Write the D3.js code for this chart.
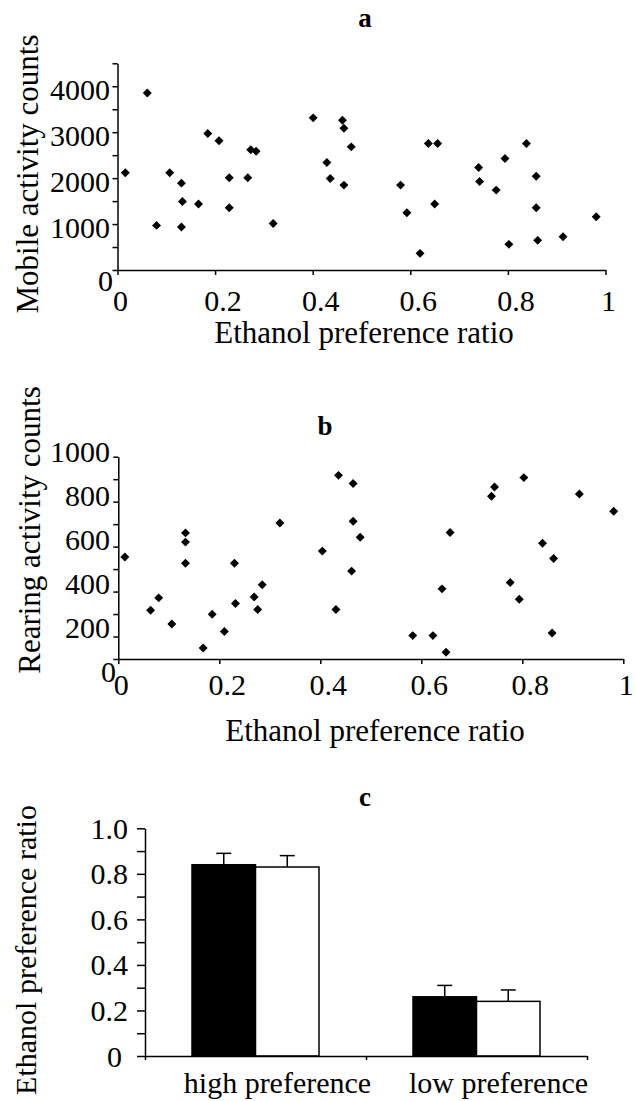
<!DOCTYPE html>
<html>
<head>
<meta charset="utf-8">
<script src="https://cdn.jsdelivr.net/npm/d3@7"></script>
<style>
body { margin: 0; background: #fff; }
text { font-family: "Liberation Serif", "Times New Roman", serif; fill: #000; }
.axis path, .axis line { stroke: #000; stroke-width: 1.5px; }
</style>
</head>
<body>
<svg id="chart" width="635" height="1101"></svg>
<script>
// panel a: ethanol preference vs mobile activity
var mobilePref = [0.016, 0.061, 0.080, 0.107, 0.131, 0.133, 0.131, 0.166, 0.185, 0.208,
                  0.229, 0.229, 0.267, 0.273, 0.284, 0.319, 0.401, 0.461, 0.464, 0.479,
                  0.429, 0.436, 0.464, 0.580, 0.593, 0.620, 0.637, 0.656, 0.650, 0.740,
                  0.742, 0.776, 0.794, 0.802, 0.838, 0.858, 0.858, 0.861, 0.913, 0.981];
var mobileCounts = [2116, 3855, 971, 2116, 1891, 1493, 935, 1435, 2971, 2812,
                    2007, 1355, 2007, 2616, 2587, 1014, 3312, 3261, 3087, 2681,
                    2341, 1993, 1848, 1848, 1246, 362, 2754, 2754, 1435, 2232,
                    1928, 1739, 2428, 558, 2754, 2043, 1355, 645, 725, 1159];
var mobileTicks = [0, 1000, 2000, 3000, 4000];

// panel b: ethanol preference vs rearing activity
var rearPref = [0.013, 0.064, 0.080, 0.106, 0.133, 0.133, 0.133, 0.168, 0.186, 0.210,
                0.230, 0.232, 0.269, 0.285, 0.276, 0.320, 0.404, 0.436, 0.465, 0.465,
                0.479, 0.462, 0.431, 0.583, 0.623, 0.649, 0.641, 0.657, 0.739, 0.745,
                0.803, 0.776, 0.794, 0.840, 0.862, 0.859, 0.913, 0.981];
var rearCounts = [554, 317, 372, 256, 661, 620, 526, 149, 299, 222,
                  526, 347, 376, 430, 320, 705, 580, 917, 881, 713,
                  642, 491, 320, 204, 204, 130, 412, 663, 824, 865,
                  907, 440, 366, 615, 547, 216, 834, 757];
var rearTicks = [0, 200, 400, 600, 800, 1000];

var prefTicks = [0, 0.2, 0.4, 0.6, 0.8, 1];

// panel c: bars
var groups = ["high preference", "low preference"];
var blackMeans = [0.84, 0.26];
var blackErr = [0.05, 0.05];
var whiteMeans = [0.83, 0.24];
var whiteErr = [0.05, 0.05];
var ratioTicks = [0, 0.2, 0.4, 0.6, 0.8, 1.0];

var svg = d3.select("#chart");
var diamond = d3.symbol().type(d3.symbolSquare).size(40);

function fmtPref(d) { return d === 0 || d === 1 ? String(d) : d3.format(".1f")(d); }

// ---------- panel a ----------
var xA = d3.scaleLinear().domain([0, 1]).range([117.5, 605.5]);
var yA = d3.scaleLinear().domain([0, 4500]).range([270, 63.3]);

svg.append("g").attr("class", "axis")
    .attr("transform", "translate(0," + yA(0) + ")")
    .call(d3.axisBottom(xA).tickValues(prefTicks).tickSize(5).tickSizeOuter(0).tickFormat(""));
svg.append("g").attr("class", "axis")
    .attr("transform", "translate(" + xA(0) + ",0)")
    .call(d3.axisLeft(yA).tickValues(d3.range(0, 4501, 500)).tickSize(5).tickSizeOuter(0).tickFormat(""));

svg.append("g").selectAll("text").data(prefTicks).enter().append("text")
    .attr("x", function(d) { return xA(d) + (d === 0 || d === 1 ? 3 : 8); })
    .attr("y", 311)
    .attr("text-anchor", "middle")
    .attr("font-size", 30)
    .text(fmtPref);
svg.append("g").selectAll("text").data(mobileTicks).enter().append("text")
    .attr("x", function(d) { return d === 0 ? 113 : 110; })
    .attr("y", function(d) { return yA(d) + (d === 0 ? 10 : 3); })
    .attr("dy", "0.35em")
    .attr("text-anchor", "end")
    .attr("font-size", 30)
    .text(function(d) { return d; });

svg.append("g").selectAll("path")
    .data(d3.zip(mobilePref, mobileCounts)).enter().append("path")
    .attr("d", diamond)
    .attr("transform", function(d) { return "translate(" + xA(d[0]) + "," + yA(d[1]) + ") rotate(45)"; })
    .attr("fill", "#000");

svg.append("text").attr("x", 365).attr("y", 27).attr("text-anchor", "middle")
    .attr("font-size", 27).attr("font-weight", "bold").text("a");
svg.append("text").attr("x", 364).attr("y", 343).attr("text-anchor", "middle")
    .attr("font-size", 31).text("Ethanol preference ratio");
svg.append("text").attr("transform", "translate(38,174) rotate(-90)")
    .attr("text-anchor", "middle").attr("font-size", 31).text("Mobile activity counts");

// ---------- panel b ----------
var xB = d3.scaleLinear().domain([0, 1]).range([118.3, 623.3]);
var yB = d3.scaleLinear().domain([100, 1000]).range([659, 456.7]);

svg.append("g").attr("class", "axis")
    .attr("transform", "translate(0," + yB(100) + ")")
    .call(d3.axisBottom(xB).tickValues(prefTicks).tickSize(5).tickSizeOuter(0).tickFormat(""));
svg.append("g").attr("class", "axis")
    .attr("transform", "translate(" + xB(0) + ",0)")
    .call(d3.axisLeft(yB).tickValues(d3.range(100, 1001, 100)).tickSize(5).tickSizeOuter(0).tickFormat(""));

svg.append("g").selectAll("text").data(prefTicks).enter().append("text")
    .attr("x", function(d) { return xB(d) + (d === 0 || d === 1 ? 3 : 8); })
    .attr("y", 695)
    .attr("text-anchor", "middle")
    .attr("font-size", 30)
    .text(fmtPref);
svg.append("g").selectAll("text").data(rearTicks).enter().append("text")
    .attr("x", function(d) { return d === 0 ? 116 : 110; })
    .attr("y", function(d) { return yB(d) - (d / 1000) * 5 - (1 - d / 1000) * 10; })
    .attr("dy", "0.35em")
    .attr("text-anchor", "end")
    .attr("font-size", 30)
    .text(function(d) { return d; });

svg.append("g").selectAll("path")
    .data(d3.zip(rearPref, rearCounts)).enter().append("path")
    .attr("d", diamond)
    .attr("transform", function(d) { return "translate(" + xB(d[0]) + "," + yB(d[1]) + ") rotate(45)"; })
    .attr("fill", "#000");

svg.append("text").attr("x", 325).attr("y", 435).attr("text-anchor", "middle")
    .attr("font-size", 27).attr("font-weight", "bold").text("b");
svg.append("text").attr("x", 375).attr("y", 741).attr("text-anchor", "middle")
    .attr("font-size", 31).text("Ethanol preference ratio");
svg.append("text").attr("transform", "translate(40,530) rotate(-90)")
    .attr("text-anchor", "middle").attr("font-size", 31).text("Rearing activity counts");

// ---------- panel c ----------
var xC = d3.scaleBand().domain(groups).range([145, 587]);
var xSub = d3.scaleBand().domain(["black", "white"]).range([47, 174]);
var yC = d3.scaleLinear().domain([0, 1]).range([1056, 828.3]);

var bars = [];
groups.forEach(function(g, i) {
    bars.push({ group: g, series: "black", value: blackMeans[i], err: blackErr[i] });
    bars.push({ group: g, series: "white", value: whiteMeans[i], err: whiteErr[i] });
});

function barMid(d) { return xC(d.group) + xSub(d.series) + xSub.bandwidth() / 2; }

var barG = svg.append("g");
barG.selectAll("line.err").data(bars).enter().append("line")
    .attr("x1", barMid).attr("x2", barMid)
    .attr("y1", function(d) { return yC(d.value); })
    .attr("y2", function(d) { return yC(d.value + d.err); })
    .attr("stroke", "#000").attr("stroke-width", 1.5);
barG.selectAll("line.cap").data(bars).enter().append("line")
    .attr("x1", function(d) { return barMid(d) - 7.5; })
    .attr("x2", function(d) { return barMid(d) + 7.5; })
    .attr("y1", function(d) { return yC(d.value + d.err); })
    .attr("y2", function(d) { return yC(d.value + d.err); })
    .attr("stroke", "#000").attr("stroke-width", 1.5);
barG.selectAll("rect").data(bars).enter().append("rect")
    .attr("x", function(d) { return xC(d.group) + xSub(d.series); })
    .attr("y", function(d) { return yC(d.value); })
    .attr("width", xSub.bandwidth())
    .attr("height", function(d) { return yC(0) - yC(d.value); })
    .attr("fill", function(d) { return d.series === "black" ? "#000" : "#fff"; })
    .attr("stroke", "#000").attr("stroke-width", 1.5);

svg.append("g").attr("class", "axis")
    .attr("transform", "translate(0," + yC(0) + ")")
    .call(d3.axisBottom(d3.scaleLinear().domain([0, 2]).range(xC.range()))
        .tickValues([0, 1, 2]).tickSize(4).tickSizeOuter(0).tickFormat(""));
svg.append("g").attr("class", "axis")
    .attr("transform", "translate(" + xC.range()[0] + ",0)")
    .call(d3.axisLeft(yC).tickValues(d3.range(0, 1.01, 0.1)).tickSize(8).tickSizeOuter(0).tickFormat(""));

svg.append("g").selectAll("text").data(ratioTicks).enter().append("text")
    .attr("x", function(d) { return d === 0 ? 122 : 128; })
    .attr("y", function(d) { return yC(d); })
    .attr("dy", "0.35em")
    .attr("text-anchor", "end")
    .attr("font-size", 30)
    .text(function(d) { return d === 0 ? "0" : d3.format(".1f")(d); });
svg.append("g").selectAll("text").data(groups).enter().append("text")
    .attr("x", function(d) { return xC(d) + xC.bandwidth() / 2 + 22; })
    .attr("y", 1093)
    .attr("text-anchor", "middle")
    .attr("font-size", 30)
    .text(function(d) { return d; });

svg.append("text").attr("x", 365).attr("y", 806).attr("text-anchor", "middle")
    .attr("font-size", 27).attr("font-weight", "bold").text("c");
svg.append("text").attr("transform", "translate(36,950) rotate(-90)")
    .attr("text-anchor", "middle").attr("font-size", 30).text("Ethanol preference ratio");
</script>
</body>
</html>
